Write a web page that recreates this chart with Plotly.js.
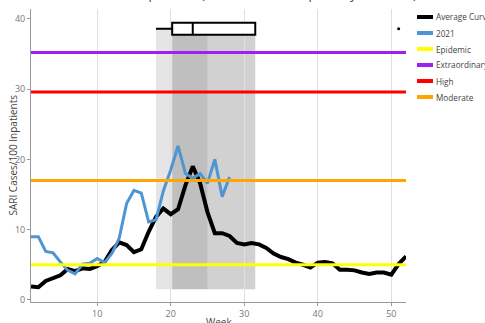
<!DOCTYPE html>
<html>
<head>
<meta charset="utf-8">
<script src="https://cdn.plot.ly/plotly-3.0.1.min.js"></script>
<style>html,body{margin:0;padding:0;background:#fff;}#chart{width:485px;height:323px;}</style>
</head>
<body>
<div id="chart"></div>
<script>
// ---- data ----
const weeks = [1,2,3,4,5,6,7,8,9,10,11,12,13,14,15,16,17,18,19,20,21,22,23,24,25,26,27,28,29,30,31,32,33,34,35,36,37,38,39,40,41,42,43,44,45,46,47,48,49,50,51,52];
const averageCurve = [1.9,1.8,2.7,3.1,3.5,4.4,4.1,4.5,4.4,4.8,5.4,7.1,8.2,7.8,6.8,7.2,9.7,11.8,13.0,12.2,12.9,16.3,19.0,16.6,12.5,9.5,9.5,9.1,8.1,7.9,8.1,7.9,7.4,6.6,6.1,5.8,5.3,5.0,4.6,5.3,5.4,5.2,4.3,4.3,4.2,3.9,3.7,3.9,3.9,3.6,5.1,6.2];
const weeks2021 = [1,2,3,4,5,6,7,8,9,10,11,12,13,14,15,16,17,18,19,20,21,22,23,24,25,26,27,28];
const values2021 = [9.0,9.0,6.9,6.7,5.4,4.2,3.7,5.1,5.2,5.9,5.3,6.6,8.8,13.7,15.6,15.2,11.1,11.4,15.5,18.5,21.9,18.0,17.3,18.0,16.6,20.0,14.7,17.5];
const thresholdNames = ["Epidemic","Extraordinary","High","Moderate"];
const thresholdValues = [5.0,35.2,29.6,17.0];
const thresholdColors = ["#ffff00","#a020f0","#ff0000","#ffa500"];
// season onset box (weeks)
const onsetLowerFence = [18.0];
const onsetQ1 = [20.2];
const onsetMedian = [23.0];
const onsetQ3 = [31.5];
const onsetUpperFence = [31.5];
const onsetOutliers = [51];
const boxLevel = [38.6];
// shaded season bands: [start, end]
const bandStarts = [18.0, 20.2, 25.0];
const bandEnds = [20.2, 25.0, 31.5];
const bandColors = ["rgba(0,0,0,0.10)","rgba(0,0,0,0.25)","rgba(0,0,0,0.18)"];
const bandBottom = 1.5;
const chartTitle = 'SARI Cases/100 Inpatients (Severe Acute Respiratory Infection)';
const xTitle = 'Week';
const yTitle = 'SARI Cases/100 Inpatients';
const legendNames = ["Average Curve","2021"].concat(thresholdNames);
const legendColors = ["#000000","#4f95d3"].concat(thresholdColors);

const traces = [];
traces.push({x: weeks, y: averageCurve, type:'scatter', mode:'lines', name:'Average Curve',
  line:{color:'#000000', width:4}, showlegend:false});
traces.push({x: weeks2021, y: values2021, type:'scatter', mode:'lines', name:'2021',
  line:{color:'#4f95d3', width:3}, showlegend:false});
for (let i=0;i<thresholdNames.length;i++){
  traces.push({x:[weeks[0], weeks[weeks.length-1]], y:[thresholdValues[i], thresholdValues[i]],
    type:'scatter', mode:'lines', name:thresholdNames[i], line:{color:thresholdColors[i], width:3}, showlegend:false});
}
traces.push({type:'box', orientation:'h', y: boxLevel, q1: onsetQ1, median: onsetMedian, q3: onsetQ3,
  lowerfence: onsetLowerFence, upperfence: onsetUpperFence, width:1.7, showlegend:false,
  fillcolor:'#ffffff', line:{color:'#000000', width:2}, hoverinfo:'skip', whiskerwidth:0});
traces.push({x: onsetOutliers, y: onsetOutliers.map(()=>boxLevel[0]), type:'scatter', mode:'markers',
  marker:{color:'#000000', size:3}, showlegend:false});

const shapes = bandStarts.map((s,i)=>({type:'rect', xref:'x', yref:'y', x0:s, x1:bandEnds[i],
  y0:bandBottom, y1:boxLevel[0], fillcolor:bandColors[i], line:{width:0}, layer:'below'}));

// legend and titles drawn in paper space
const plotTop = 9, plotH = 293, plotL = 31, plotW = 375;
const legTop = 17, legStep = 16;
const annotations = [
  {text:chartTitle, xref:'paper', yref:'paper', x:1.035, xanchor:'right',
    y:1.012, yanchor:'bottom', showarrow:false, font:{size:13, color:'#444'}},
  {text:xTitle, xref:'paper', yref:'paper', x:0.5, xanchor:'center',
    y:-(322-plotTop-plotH)/plotH, yanchor:'middle', showarrow:false, font:{size:10, color:'#444'}},
  {text:yTitle, xref:'paper', yref:'paper', x:(12-plotL)/plotW, xanchor:'center',
    y:0.5, yanchor:'middle', textangle:-90, showarrow:false, font:{size:10, color:'#444'}}
];
legendNames.forEach((n,i)=>{
  const py = 1 - (legTop + i*legStep - plotTop)/plotH;
  shapes.push({type:'line', xref:'paper', yref:'paper', x0:(417-plotL)/plotW, x1:(433-plotL)/plotW,
    y0:py, y1:py, line:{color:legendColors[i], width:4}});
  annotations.push({text:n, xref:'paper', yref:'paper', x:(434-plotL)/plotW, xanchor:'left',
    y:py, yanchor:'middle', showarrow:false, font:{size:8.2, color:'#444'}});
});

const layout = {
  width:485, height:323,
  margin:{l:31, r:79, t:9, b:21, autoexpand:false},
  paper_bgcolor:'#ffffff', plot_bgcolor:'#ffffff',
  font:{family:'"Open Sans", sans-serif', color:'#444'},
  annotations: annotations,
  shapes: shapes,
  showlegend:false,
  xaxis:{range:[1,52], tickvals:[10,20,30,40,50], showgrid:true, gridcolor:'#e0e0e0', zeroline:false,
    showline:true, linecolor:'#999', ticks:'outside', ticklen:3, tickcolor:'#999',
    tickfont:{size:9, color:'#777'}},
  yaxis:{range:[-0.3,41.4], tickvals:[0,10,20,30,40], showgrid:false, zeroline:false,
    showline:true, linecolor:'#999', ticks:'outside', ticklen:3, tickcolor:'#999',
    tickfont:{size:9, color:'#777'}}
};
Plotly.newPlot('chart', traces, layout, {displayModeBar:false, staticPlot:true});
</script>
</body>
</html>
